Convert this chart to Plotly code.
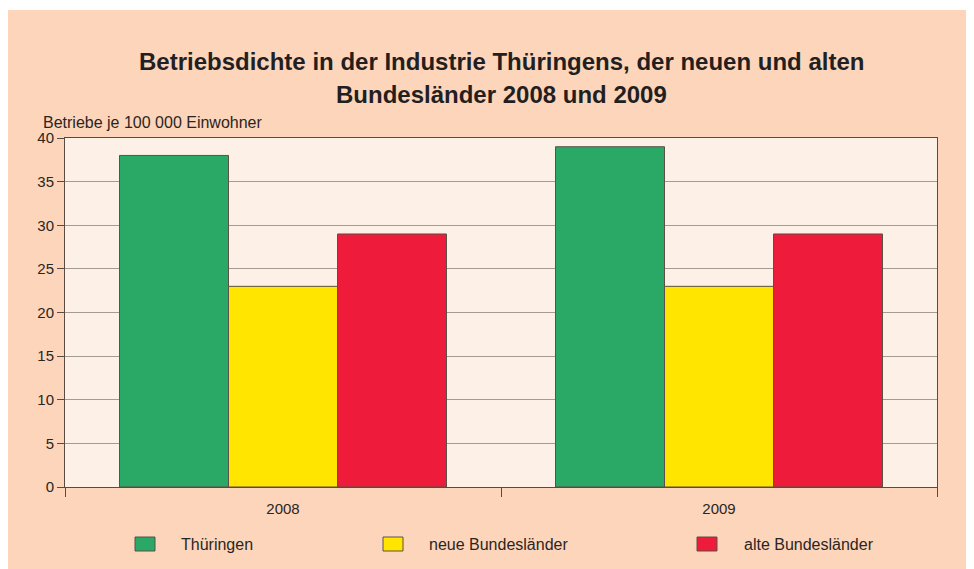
import plotly.graph_objects as go

years = ["2008", "2009"]
series_names = ["Thüringen", "neue Bundesländer", "alte Bundesländer"]
thueringen = [38, 39]
neue_bl = [23, 23]
alte_bl = [29, 29]
series_values = [thueringen, neue_bl, alte_bl]
colors = ["#2aa866", "#ffe500", "#ee1c3a"]
y_ticks = [0, 5, 10, 15, 20, 25, 30, 35, 40]

OFF = 8  # page body margin
W, H = 974 - OFF, 569 - OFF
L, T = 65 - OFF, 138 - OFF
R = W - (937 - OFF)
B = H - (487 - OFF)
pw, ph = W - L - R, H - T - B

def px_x(x):  # screenshot px -> paper
    return (x - OFF - L) / pw

def px_y(y):
    return (H - B - (y - OFF)) / ph

FONT = "Liberation Sans, Arial, sans-serif"
TXT = "#2b2522"

fig = go.Figure()
for name, vals, c in zip(series_names, series_values, colors):
    fig.add_trace(go.Bar(
        x=years, y=vals, name=name, marker=dict(color=c, line=dict(color="#5a5048", width=1)),
        showlegend=False, hoverinfo="x+y+name"))

shapes = [
    dict(type="rect", xref="paper", yref="paper", x0=px_x(0), x1=px_x(990), y0=px_y(590), y1=px_y(10),
         fillcolor="#fdd5bb", line=dict(width=0), layer="below"),
    dict(type="rect", xref="paper", yref="paper", x0=0, x1=1, y0=0, y1=1,
         fillcolor="#fdf0e6", line=dict(width=0), layer="below"),
]
annotations = [
    dict(text="<b>Betriebsdichte in der Industrie Thüringens, der neuen und alten</b>", xref="paper", yref="paper",
         x=px_x(502), y=px_y(61), xanchor="center", yanchor="middle", showarrow=False,
         font=dict(family=FONT, size=24, color="#231f20")),
    dict(text="<b>Bundesländer 2008 und 2009</b>", xref="paper", yref="paper",
         x=px_x(502), y=px_y(94), xanchor="center", yanchor="middle", showarrow=False,
         font=dict(family=FONT, size=24, color="#231f20")),
    dict(text="Betriebe je 100 000 Einwohner", xref="paper", yref="paper",
         x=px_x(41), y=px_y(122), xanchor="left", yanchor="middle", showarrow=False,
         font=dict(family=FONT, size=16, color=TXT)),
]
leg_sq = [135, 383, 697]
leg_tx = [179, 427, 742]
for name, c, sx, tx in zip(series_names, colors, leg_sq, leg_tx):
    shapes.append(dict(type="rect", xref="paper", yref="paper", x0=px_x(sx), x1=px_x(sx + 20),
                       y0=px_y(551), y1=px_y(537), fillcolor=c, line=dict(color="#5a5048", width=1)))
    annotations.append(dict(text=name, xref="paper", yref="paper", x=px_x(tx), y=px_y(544),
                            xanchor="left", yanchor="middle", showarrow=False,
                            font=dict(family=FONT, size=16, color=TXT)))

fig.update_layout(
    width=W, height=H, margin=dict(l=L, r=R, t=T, b=B, pad=0),
    paper_bgcolor="white", plot_bgcolor="rgba(0,0,0,0)",
    barmode="group", bargap=0.25, bargroupgap=0,
    shapes=shapes, annotations=annotations,
    font=dict(family=FONT, size=15, color=TXT),
    xaxis=dict(type="category", tickson="boundaries", ticks="outside", ticklen=9, tickcolor="#5a4a42",
               ticklabelstandoff=8,
               showline=True, linecolor="#5a4a42", linewidth=1, mirror=True, showgrid=False,
               tickfont=dict(family=FONT, size=15, color=TXT)),
    yaxis=dict(range=[0, 40], tickvals=y_ticks, ticks="outside", ticklen=7, tickcolor="#5a4a42",
               showline=True, linecolor="#5a4a42", linewidth=1, mirror=True,
               showgrid=True, gridcolor="#a49b94", gridwidth=1, zeroline=False,
               tickfont=dict(family=FONT, size=15, color=TXT)),
)
fig.write_html("out.html")
